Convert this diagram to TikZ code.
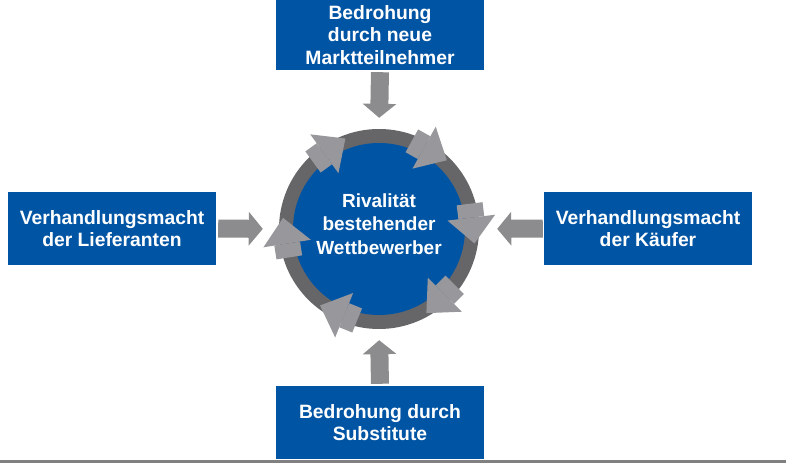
\documentclass[tikz,border=0pt]{standalone}
\usepackage{fontspec}
\setmainfont{Liberation Sans}
\usetikzlibrary{arrows.meta}
\definecolor{boxblue}{RGB}{0,84,164}
\definecolor{ringgray}{RGB}{102,102,104}
\definecolor{smallgray}{RGB}{152,152,156}
\definecolor{arrowgray}{RGB}{140,140,142}
\definecolor{linegray}{RGB}{128,128,128}
\begin{document}
\begin{tikzpicture}[x=1pt,y=1pt,
  forcebox/.style={fill=boxblue, minimum width=208pt, inner sep=0pt, text=white,
    font=\fontsize{19.3}{22.5}\selectfont\bfseries, align=center},
  bigarrow/.style={draw=arrowgray, line width=18pt, -{Triangle[width=33pt,length=14pt]}},
  ringnode/.style={circle, fill=ringgray, minimum size=200pt, inner sep=0pt},
  ringtext/.style={text=white, font=\fontsize{19}{23.5}\selectfont\bfseries, align=center},
  ringhead/.style={fill=smallgray}
]
\useasboundingbox (0,0) rectangle (790,463);
% boxes
\node[forcebox, minimum height=70pt] (top) at (380,428) {Bedrohung\\durch neue\\Marktteilnehmer};
\node[forcebox, minimum height=73pt] (bottom) at (380,40.5) {Bedrohung durch\\Substitute};
\node[forcebox, minimum height=73pt] (left) at (112,234.5) {Verhandlungsmacht\\der Lieferanten};
\node[forcebox, minimum height=73pt] (right) at (648,234.5) {Verhandlungsmacht\\der K\"aufer};
% ring
\node[ringnode] (ring) at (379,234) {};
\fill[boxblue] (ring.center) circle (86);
\foreach \a in {126,61,7,-45,-112,-171} {
  \begin{scope}[shift={(ring.center)}, rotate=\a]
    \fill[ringhead] (80,0) -- (80,14) -- (106,14) -- (106,0) -- cycle;
    \fill[ringhead] (69,0) -- (117,0) -- (93,-26) -- cycle;
  \end{scope}
}
\node[ringtext] (rtext) at (379,239) {Rivalit\"at\\bestehender\\Wettbewerber};
% big arrows
\draw[bigarrow, shorten <=2pt, shorten >=11pt] (top.south) -- (ring.north);
\draw[bigarrow, shorten <=2pt, shorten >=16pt] (left.east) -- (ring.west);
\draw[bigarrow, shorten <=1pt, shorten >=18pt] (right.west) -- (ring.east);
\draw[bigarrow, shorten <=2pt, shorten >=11pt] (bottom.north) -- (ring.south);
% bottom rule
\fill[linegray] (0,0) rectangle (786,2.5);
\end{tikzpicture}
\end{document}
